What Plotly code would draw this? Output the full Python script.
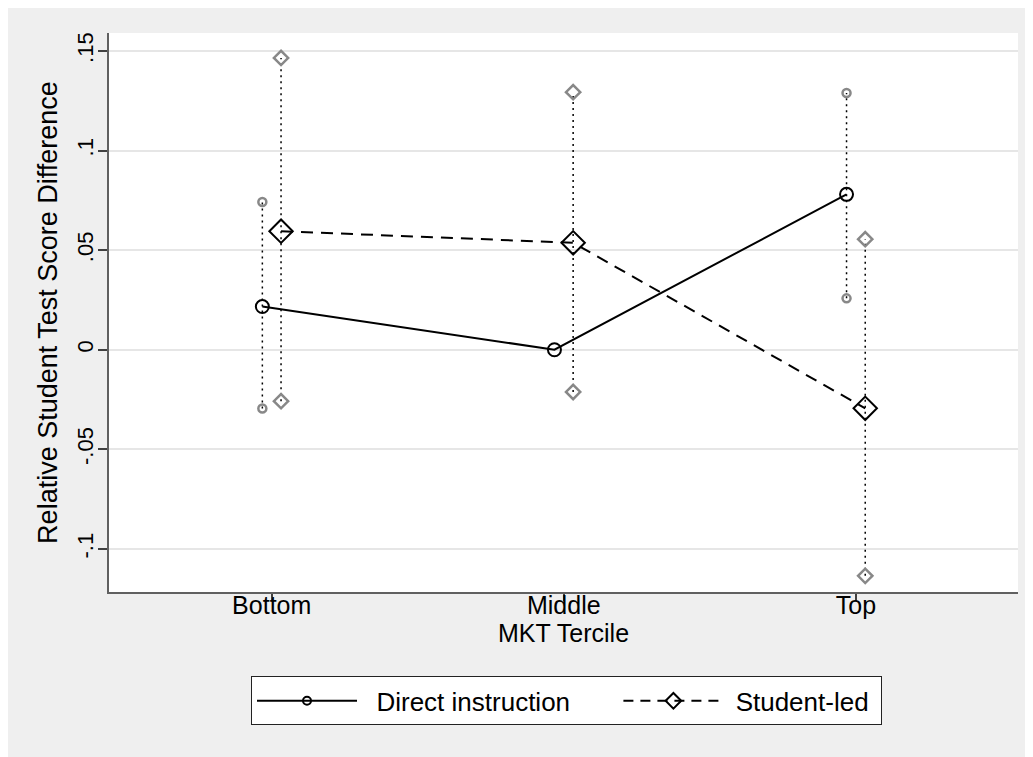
import plotly.graph_objects as go

categories = ["Bottom", "Middle", "Top"]
cat_pos = [1, 2, 3]

direct_est = [0.0217, 0.0, 0.078]
direct_lo = [-0.0295, None, 0.0258]
direct_hi = [0.0742, None, 0.1289]

student_est = [0.0595, 0.0537, -0.0294]
student_lo = [-0.0258, -0.0212, -0.1135]
student_hi = [0.1465, 0.1293, 0.0555]

y_ticks = [-0.1, -0.05, 0, 0.05, 0.1, 0.15]
y_ticktext = ["-.1", "-.05", "0", ".05", ".1", ".15"]

series_names = ["Direct instruction", "Student-led"]
x_title = "MKT Tercile"
y_title = "Relative Student Test Score Difference"

offset = 0.032
FONT = "Liberation Sans, Arial, sans-serif"
FS = 26
XFS = 25
NB = "\u00a0"

def ci_xy(pos, lo, hi, off):
    xs, ys = [], []
    for p, l, h in zip(pos, lo, hi):
        if l is None or h is None:
            continue
        xs += [p + off, p + off, None]
        ys += [l, h, None]
    return xs, ys

fig = go.Figure()

cx, cy = ci_xy(cat_pos, direct_lo, direct_hi, -offset)
fig.add_trace(go.Scatter(x=cx, y=cy, mode="lines+markers", showlegend=False,
                         line=dict(color="black", width=1.5, dash="2px,4px"),
                         marker=dict(symbol="circle-open", size=8, color="#888888",
                                     line=dict(width=2.5, color="#888888")),
                         hoverinfo="skip"))
cx, cy = ci_xy(cat_pos, student_lo, student_hi, offset)
fig.add_trace(go.Scatter(x=cx, y=cy, mode="lines+markers", showlegend=False,
                         line=dict(color="black", width=1.5, dash="2px,4px"),
                         marker=dict(symbol="diamond-open", size=11, color="#888888",
                                     line=dict(width=2.5, color="#888888")),
                         hoverinfo="skip"))

fig.add_trace(go.Scatter(x=[p - offset for p in cat_pos], y=direct_est,
                         mode="lines+markers", showlegend=False,
                         line=dict(color="black", width=2),
                         marker=dict(symbol="circle-open", size=13, color="black",
                                     line=dict(width=2, color="black"))))
fig.add_trace(go.Scatter(x=[p + offset for p in cat_pos], y=student_est,
                         mode="lines+markers", showlegend=False,
                         line=dict(color="black", width=2, dash="12px,8px"),
                         marker=dict(symbol="diamond-open", size=18, color="black",
                                     line=dict(width=2, color="black"))))

# legend entries
fig.add_trace(go.Scatter(x=[None], y=[None], mode="lines+markers",
                         name=NB * 2 + series_names[0] + NB * 6,
                         line=dict(color="black", width=2),
                         marker=dict(symbol="circle-open", size=8, color="black",
                                     line=dict(width=2, color="black"))))
fig.add_trace(go.Scatter(x=[None], y=[None], mode="lines+markers",
                         name=NB + series_names[1] + NB,
                         line=dict(color="black", width=2, dash="10px,7px"),
                         marker=dict(symbol="diamond-open", size=12, color="black",
                                     line=dict(width=2, color="black"))))

plot_h = 749 - 25 - 164.5

fig.update_layout(
    width=1025, height=749,
    margin=dict(l=101, r=15, t=25, b=164.5, autoexpand=False),
    paper_bgcolor="#efefef", plot_bgcolor="white",
    font=dict(family=FONT, size=FS, color="black"),
    showlegend=True,
    legend=dict(orientation="h", x=(251 - 109) / 909, y=-(677 - 592.5) / plot_h,
                xanchor="left", yanchor="top",
                bgcolor="white", bordercolor="#222222", borderwidth=1,
                font=dict(size=FS, family=FONT), itemwidth=100, tracegroupgap=0,
                itemclick=False),
    annotations=[dict(text=x_title, xref="paper", yref="paper", x=0.5,
                      y=-(634 - 592.5) / plot_h, xanchor="center", yanchor="middle",
                      showarrow=False, font=dict(size=XFS, family=FONT))],
)
fig.update_xaxes(range=[0.443, 3.555], tickvals=cat_pos, ticktext=categories,
                 showgrid=False, zeroline=False, showline=True, linecolor="#606060",
                 linewidth=2, ticks="outside", ticklen=7, tickcolor="#404040", tickwidth=1.5,
                 ticklabelstandoff=-17, tickfont=dict(size=XFS))
fig.update_yaxes(range=[-0.1216, 0.159], tickvals=y_ticks, ticktext=y_ticktext,
                 tickangle=-90, showgrid=True, gridcolor="#e6e6e6", gridwidth=2,
                 zeroline=False, showline=True, linecolor="#606060", linewidth=2,
                 ticks="outside", ticklen=9, tickcolor="#404040", tickwidth=1.5,
                 ticklabelstandoff=-4,
                 title=dict(text=y_title, standoff=8, font=dict(size=27)),
                 tickfont=dict(size=22))

fig.write_html("out.html")
